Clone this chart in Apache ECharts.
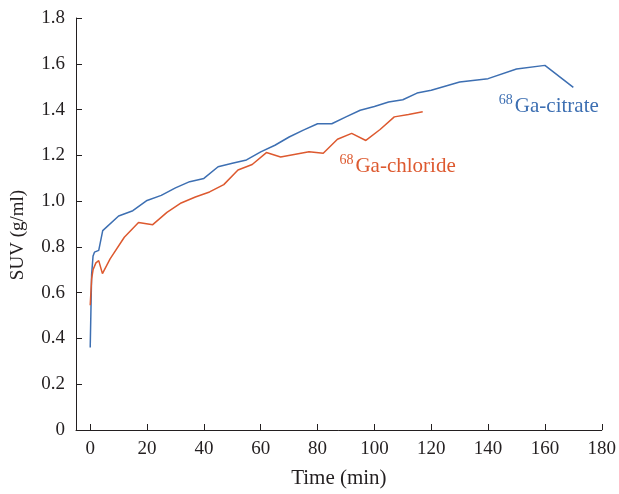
<!DOCTYPE html>
<html>
<head>
<meta charset="utf-8">
<script src="https://cdn.jsdelivr.net/npm/echarts@6/dist/echarts.min.js"></script>
<style>html,body{margin:0;padding:0;background:#fff}#c{width:619px;height:494px}</style>
</head>
<body>
<div id="c"></div>
<script>
// Time (min) and SUV (g/ml) values
const citrateTime = [0, 0.5, 1, 1.5, 3, 4.4, 10, 15, 20, 25, 30, 35, 40, 45, 50, 55, 60, 65, 70, 75, 80, 85, 90, 95, 100, 105, 110, 115, 120, 130, 140, 150, 160, 170];
const citrateSUV  = [0.36, 0.68, 0.76, 0.777, 0.785, 0.871, 0.935, 0.958, 1.003, 1.025, 1.058, 1.085, 1.099, 1.15, 1.165, 1.18, 1.215, 1.244, 1.28, 1.31, 1.338, 1.338, 1.368, 1.397, 1.413, 1.433, 1.443, 1.472, 1.484, 1.52, 1.535, 1.577, 1.593, 1.497];
const chlorideTime = [0, 0.5, 1, 2, 3, 4.3, 7, 12, 17, 22, 27, 32, 37, 42, 47, 52, 57, 62, 67, 77, 82, 87, 92, 97, 102, 107, 112, 117];
const chlorideSUV  = [0.545, 0.66, 0.70, 0.73, 0.74, 0.683, 0.748, 0.842, 0.907, 0.897, 0.951, 0.992, 1.018, 1.04, 1.072, 1.136, 1.16, 1.212, 1.193, 1.216, 1.209, 1.27, 1.296, 1.265, 1.313, 1.368, 1.378, 1.39];
const xTicks = [0, 20, 40, 60, 80, 100, 120, 140, 160, 180];
const yTicks = [0, 0.2, 0.4, 0.6, 0.8, 1.0, 1.2, 1.4, 1.6, 1.8];
const citrateName = ['68', 'Ga-citrate'];
const chlorideName = ['68', 'Ga-chloride'];

const FONT = 'Liberation Serif';
const BLUE = '#3d6fb2';
const RED = '#dd592f';
const AX = '#231f20';

const zip = (a, b) => a.map((v, i) => [v, b[i]]);
const richFor = (c) => ({
  sup: {fontFamily: FONT, fontSize: 14, color: c, padding: [0, 2, 12, 0]},
  main: {fontFamily: FONT, fontSize: 21, color: c}
});

const chart = echarts.init(document.getElementById('c'), null, {renderer: 'canvas'});
chart.setOption({
  animation: false,
  backgroundColor: '#fff',
  grid: {left: 76, right: 16, top: 18, bottom: 62},
  xAxis: {
    type: 'value', min: -5, max: 180,
    name: 'Time (min)', nameLocation: 'middle', nameGap: 38,
    nameTextStyle: {fontFamily: FONT, fontSize: 21, color: AX},
    axisLine: {show: true, onZero: false, lineStyle: {color: AX, width: 1}},
    axisTick: {show: true, inside: true, length: 6, lineStyle: {color: AX}, customValues: xTicks},
    axisLabel: {fontFamily: FONT, fontSize: 19, color: AX, margin: 10, customValues: xTicks},
    splitLine: {show: false}
  },
  yAxis: {
    type: 'value', min: 0, max: 1.8,
    name: 'SUV (g/ml)', nameLocation: 'middle', nameGap: 48,
    nameTextStyle: {fontFamily: FONT, fontSize: 19, color: AX, padding: [0, 22, 0, 0]},
    axisLine: {show: true, onZero: false, lineStyle: {color: AX, width: 1}},
    axisTick: {show: true, inside: true, length: 6, lineStyle: {color: AX}, customValues: yTicks},
    axisLabel: {fontFamily: FONT, fontSize: 19, color: AX, margin: 11, customValues: yTicks,
      formatter: v => v === 0 ? '0' : v.toFixed(1)},
    splitLine: {show: false}
  },
  series: [
    {
      name: 'citrate', type: 'line', data: zip(citrateTime, citrateSUV),
      symbol: 'none', lineStyle: {color: BLUE, width: 1.5},
      markPoint: {
        symbol: 'circle', symbolSize: 0,
        data: [{coord: [143.8, 1.415], label: {show: true, position: 'right', distance: 0,
          formatter: '{sup|' + citrateName[0] + '}{main|' + citrateName[1] + '}', rich: richFor(BLUE)}}]
      }
    },
    {
      name: 'chloride', type: 'line', data: zip(chlorideTime, chlorideSUV),
      symbol: 'none', lineStyle: {color: RED, width: 1.5},
      markPoint: {
        symbol: 'circle', symbolSize: 0,
        data: [{coord: [87.7, 1.15], label: {show: true, position: 'right', distance: 0,
          formatter: '{sup|' + chlorideName[0] + '}{main|' + chlorideName[1] + '}', rich: richFor(RED)}}]
      }
    }
  ]
});
</script>
</body>
</html>
